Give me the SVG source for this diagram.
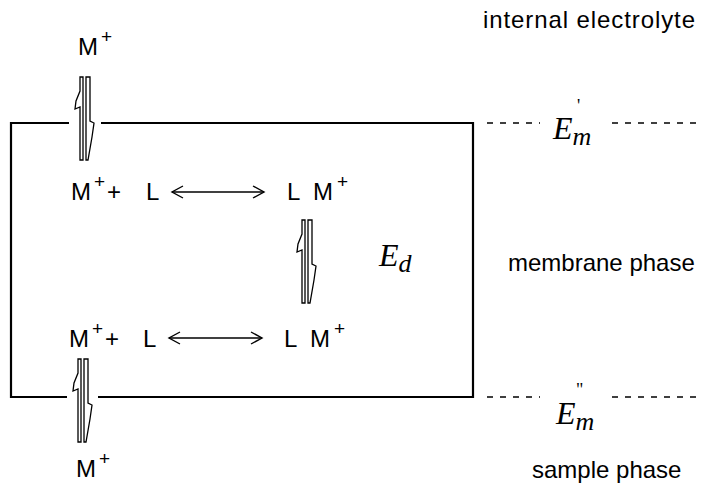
<svg xmlns="http://www.w3.org/2000/svg" width="706" height="484" viewBox="0 0 706 484">
<defs>
<style>
.t{font-family:"Liberation Sans",Arial,sans-serif;font-size:24px;fill:#000}
.s{font-family:"Liberation Sans",Arial,sans-serif;font-size:19px;fill:#000}
.e{font-family:"Liberation Serif","Times New Roman",serif;font-style:italic;font-size:32px;fill:#000}
.sub{font-family:"Liberation Serif","Times New Roman",serif;font-style:italic;font-size:26px;fill:#000}
.pr{font-family:"Liberation Serif","Times New Roman",serif;font-size:18px;fill:#000}
.line{stroke:#000;stroke-width:2.2;fill:none}
.dash{stroke:#000;stroke-width:1.3;stroke-dasharray:6 7;fill:none}
.bar{stroke:#000;stroke-width:1.3;fill:#fff}
.arr{stroke:#000;stroke-width:1.3;fill:none}
</style>
<marker id="ah" markerWidth="14" markerHeight="14" refX="12" refY="7" orient="auto-start-reverse" markerUnits="userSpaceOnUse">
<path d="M1,1 L12,7 L1,13" fill="none" stroke="#000" stroke-width="1.4"/>
</marker>
<g id="eq">
<path class="bar" d="M4,0 L7,0 L7,83 L4,83 L4,30 L-1,32 L0,24 L4,14 Z"/>
<path class="bar" d="M10,0 L14,0 L14,44 L18,46 L16,60 L12,83 L10,83 Z"/>
</g>
</defs>

<g id="connectors">
<path class="line" d="M69,123 L11,123 L11,397 L67,397"/>
<path class="line" d="M101,123 L473,123 L473,397 L98,397"/>
<path class="dash" d="M487,123 L540,123 M612,123 L697,123"/>
<path class="dash" d="M487,397 L540,397 M612,397 L697,397"/>
<line class="arr" x1="172" y1="192" x2="264" y2="192" marker-start="url(#ah)" marker-end="url(#ah)"/>
<line class="arr" x1="169" y1="338" x2="262" y2="338" marker-start="url(#ah)" marker-end="url(#ah)"/>
</g>

<g id="eq-top"><use href="#eq" x="76" y="77"/></g>
<g id="eq-mid"><use href="#eq" x="298" y="220"/></g>
<g id="eq-bot"><use href="#eq" x="74" y="359"/></g>

<g id="label-internal"><text class="t" x="483" y="28" textLength="212">internal electrolyte</text></g>
<g id="label-membrane"><text class="t" x="508" y="271">membrane phase</text></g>
<g id="label-sample"><text class="t" x="532" y="478">sample phase</text></g>

<g id="m-top"><text class="t" x="78" y="55">M</text><text class="s" x="101" y="43">+</text></g>
<g id="m-bot"><text class="t" x="76" y="477">M</text><text class="s" x="99" y="465">+</text></g>

<g id="row1">
<text class="t" x="71" y="200">M</text><text class="s" x="94" y="188">+</text><text class="t" x="107" y="200">+</text><text class="t" x="146" y="200">L</text>
<text class="t" x="287" y="200">L</text><text class="t" x="313" y="200">M</text><text class="s" x="337" y="188">+</text>
</g>
<g id="row2">
<text class="t" x="69" y="347">M</text><text class="s" x="92" y="335">+</text><text class="t" x="105" y="347">+</text><text class="t" x="143" y="347">L</text>
<text class="t" x="284" y="347">L</text><text class="t" x="310" y="347">M</text><text class="s" x="334" y="335">+</text>
</g>

<g id="Ed"><text class="e" x="379" y="266">E<tspan class="sub" dy="6">d</tspan></text></g>
<g id="Em1"><text class="e" x="553" y="139">E<tspan class="sub" dy="6">m</tspan></text><text class="pr" x="577" y="112">'</text></g>
<g id="Em2"><text class="e" x="556" y="424">E<tspan class="sub" dy="6">m</tspan></text><text class="pr" x="576" y="396">"</text></g>
</svg>
